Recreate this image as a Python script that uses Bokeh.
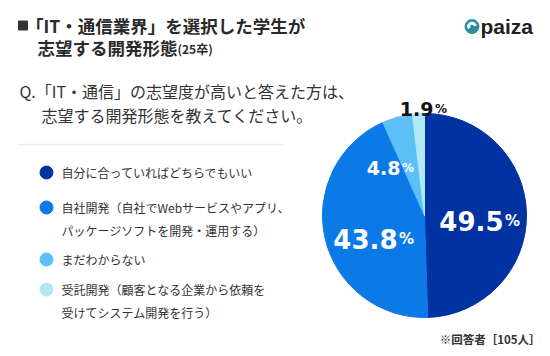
import numpy as np
from bokeh.plotting import figure
from bokeh.models import Range1d, ColumnDataSource
from bokeh.core.properties import value
from bokeh.embed import file_html
from bokeh.resources import INLINE

# ---- data ----
title_line1 = "「IT・通信業界」を選択した学生が"
title_line2 = "志望する開発形態"
title_suffix = "(25卒)"
question_line1 = "Q.「IT・通信」の志望度が高いと答えた方は、"
question_line2 = "志望する開発形態を教えてください。"
categories = [
    "自分に合っていればどちらでもいい",
    "自社開発（自社でWebサービスやアプリ、\nパッケージソフトを開発・運用する）",
    "まだわからない",
    "受託開発（顧客となる企業から依頼を\n受けてシステム開発を行う）",
]
values = [49.5, 43.8, 4.8, 1.9]
colors = ["#0033a1", "#0c7ae6", "#5cbff6", "#b2e7f6"]
label_colors = ["white", "white", "white", "#111111"]
note = "※回答者［105人］"
logo = "paiza"

W, H = 550, 356
def X(x):  # screenshot px -> data
    return x
def Y(y):
    return H - y

JP = value("Noto Sans CJK JP")
NUM = value("DejaVu Sans")

p = figure(width=W, height=H, output_backend="svg", toolbar_location=None,
           x_range=Range1d(0, W), y_range=Range1d(0, H),
           x_axis_location=None, y_axis_location=None, min_border=0)
p.grid.visible = False
p.outline_line_color = None
p.background_fill_color = "white"
p.border_fill_color = "white"

# ---- title ----
p.rect(x=[X(22.5)], y=[Y(25)], width=9, height=9, width_units="screen",
       height_units="screen", color="#333333")
p.text(x=[X(25.5)], y=[Y(25)], text=[title_line1], text_font=JP, text_font_size="17.5px",
       text_font_style="bold", text_color="#2a2a2a", text_baseline="middle")
p.text(x=[X(37)], y=[Y(47)], text=[title_line2], text_font=JP, text_font_size="17.5px",
       text_font_style="bold", text_color="#2a2a2a", text_baseline="middle")
p.text(x=[X(177)], y=[Y(48)], text=[title_suffix], text_font=JP, text_font_size="12px",
       text_font_style="bold", text_color="#2a2a2a", text_baseline="middle")

# ---- logo ----
p.scatter(x=[X(471.5)], y=[Y(26)], size=14, marker="circle", color="#2a8c9c")
p.annular_wedge(x=[X(471.5)], y=[Y(26)], inner_radius=2.2, outer_radius=4.4,
                inner_radius_units="screen", outer_radius_units="screen",
                start_angle=0.3, end_angle=3.6, color="white")
p.text(x=[X(480)], y=[Y(26)], text=[logo], text_font=value("Liberation Sans"),
       text_font_size="21px", text_font_style="bold", text_color="#231f20",
       text_baseline="middle")

# ---- question ----
p.text(x=[X(19), X(41)], y=[Y(90), Y(114)], text=[question_line1, question_line2],
       text_font=JP, text_font_size="16px", text_color="#333333", text_baseline="middle")

# divider
p.line(x=[X(18), X(283)], y=[Y(144), Y(144)], line_color="#ebebeb", line_width=1.5)

# ---- legend ----
item_y = [172, 207, 259, 289]
line_gap = 22.5
lx, ly, lt = [], [], []
for cat, yy in zip(categories, item_y):
    for k, ln in enumerate(cat.split("\n")):
        lx.append(X(61)); ly.append(Y(yy + k * line_gap)); lt.append(ln)
p.scatter(x=[X(46)] * len(values), y=[Y(v) for v in item_y], size=13,
          marker="circle", color=colors)
p.text(x=lx, y=ly, text=lt, text_font=JP, text_font_size="12px",
       text_color="#333333", text_baseline="middle")

# ---- pie ----
cx, cy, R = X(424), Y(215), 102
vals = np.array(values)
cum = np.concatenate([[0], np.cumsum(vals)]) / vals.sum()
src = ColumnDataSource(dict(
    start=np.pi / 2 - 2 * np.pi * cum[:-1],
    end=np.pi / 2 - 2 * np.pi * cum[1:],
    color=colors,
))
p.wedge(x=cx, y=cy, radius=R, radius_units="screen", start_angle="start",
        end_angle="end", direction="clock", color="color", source=src)

# pie labels: anchor = right edge of number, baseline (screenshot px)
anchors = [(503, 220), (397, 238), (400, 167), (433, 108)]
num_sizes = ["26px", "26px", "19px", "19px"]
pct_sizes = ["15px", "15px", "12px", "12px"]
for v, (ax, ay), ns, ps, tc in zip(values, anchors, num_sizes, pct_sizes, label_colors):
    p.text(x=[X(ax)], y=[Y(ay)], text=[f"{v:.1f}"], text_font=NUM, text_font_size=ns,
           text_font_style="bold", text_color=tc, text_align="right",
           text_baseline="alphabetic")
    p.text(x=[X(ax + 1.5)], y=[Y(ay)], text=["%"], text_font=NUM, text_font_size=ps,
           text_font_style="bold", text_color=tc, text_align="left",
           text_baseline="alphabetic")

# note
p.text(x=[X(540)], y=[Y(338)], text=[note], text_font=JP, text_font_size="11.5px",
       text_font_style="bold", text_color="#333333", text_align="right",
       text_baseline="middle")

open("out.html", "w").write(file_html(p, INLINE))
